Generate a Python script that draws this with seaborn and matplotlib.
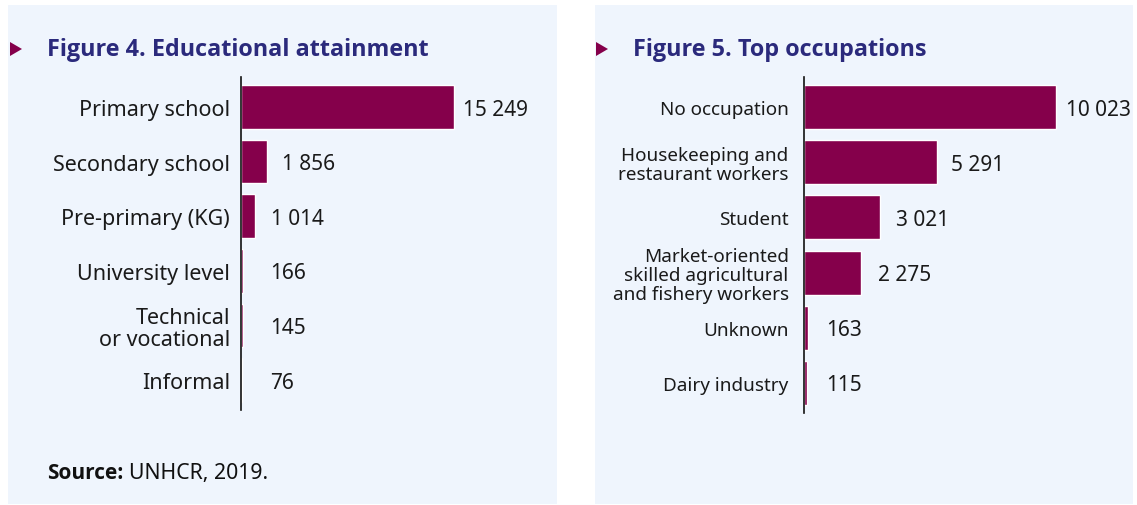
import matplotlib
matplotlib.use("Agg")
import matplotlib.pyplot as plt
import seaborn as sns
import pandas as pd
from matplotlib.patches import Rectangle, Polygon

edu_labels = ["Primary school", "Secondary school", "Pre-primary (KG)",
              "University level", "Technical\nor vocational", "Informal"]
edu_values = [15249, 1856, 1014, 166, 145, 76]

occ_labels = ["No occupation", "Housekeeping and\nrestaurant workers", "Student",
              "Market-oriented\nskilled agricultural\nand fishery workers",
              "Unknown", "Dairy industry"]
occ_values = [10023, 5291, 3021, 2275, 163, 115]

BAR = "#85004b"
NAVY = "#2b2a7c"
PANEL = "#eff5fd"
BOLD = ['Open Sans', 'DejaVu Sans']

sns.set_theme(style="white")
plt.rcParams['font.family'] = ['Noto Sans', 'DejaVu Sans']

W, H = 1137, 506
fig = plt.figure(figsize=(W / 100, H / 100), dpi=100)
fig.patch.set_facecolor("white")


def px(x0, y0, x1, y1):
    # pixel box (from top-left) -> figure fraction [l, b, w, h]
    return [x0 / W, 1 - y1 / H, (x1 - x0) / W, (y1 - y0) / H]


for (x0, x1) in [(8, 557), (595, 1133)]:
    l, b, w, h = px(x0, 6, x1, 505)
    fig.patches.append(Rectangle((l, b), w, h, transform=fig.transFigure,
                                 facecolor=PANEL, edgecolor="none", zorder=-5))


def fmt(v):
    return f"{v:,}".replace(",", " ")


def panel(box, labels, values, xmax, title, tx, label_size, pad, off, min_off):
    ax = fig.add_axes(px(*box))
    df = pd.DataFrame({"label": labels, "value": values})
    sns.barplot(data=df, x="value", y="label", color=BAR, width=0.8,
                saturation=1, ax=ax)
    ax.set_facecolor("none")
    ax.set_xlim(0, xmax)
    ax.set_ylim(5.55, -0.55)
    for s in ["top", "right", "bottom"]:
        ax.spines[s].set_visible(False)
    ax.spines["left"].set_color("#111111")
    ax.spines["left"].set_linewidth(1.2)
    ax.set_xticks([])
    ax.set_xlabel("")
    ax.set_ylabel("")
    ax.tick_params(axis="y", length=0, pad=pad, labelsize=label_size,
                   labelcolor="#1a1a1a")
    for lab in ax.get_yticklabels():
        lab.set_linespacing(1.05)
    # value labels sit a little further out on short bars
    for i, v in enumerate(values):
        x = max(v * 0.967 + xmax * off, xmax * min_off)
        ax.text(x, i + 0.04, fmt(v), va="center", ha="left",
                fontsize=15, color="#1a1a1a", clip_on=False)
    # title with triangle marker
    fig.text(tx / W, 1 - 50 / H, title, fontsize=16.8, fontweight="bold",
             family=BOLD, color=NAVY, va="center", ha="left")
    mx = tx - 37
    tri = Polygon([[mx / W, 1 - 43 / H], [mx / W, 1 - 57 / H],
                   [(mx + 12) / W, 1 - 50 / H]], closed=True,
                  transform=fig.transFigure, facecolor=BAR, edgecolor="none")
    fig.patches.append(tri)
    return ax


panel((241, 78, 541, 411), edu_labels, edu_values, 21500,
      "Figure 4. Educational attainment", 47, 15.5, 8, 16 / 300, 29 / 300)
panel((804, 78, 1104, 414), occ_labels, occ_values, 11950,
      "Figure 5. Top occupations", 633, 13.6, 11, 18.5 / 300, 22 / 300)

src = fig.text(47 / W, 1 - 474 / H, "Source:", fontsize=15, fontweight="bold",
               family=BOLD, color="#111111", va="center", ha="left")
r = fig.canvas.get_renderer()
bb = src.get_window_extent(renderer=r)
fig.text((bb.x1 + 6) / W, 1 - 474 / H, "UNHCR, 2019.", fontsize=15.3,
         color="#111111", va="center", ha="left")

fig.savefig("out.png", dpi=100)
